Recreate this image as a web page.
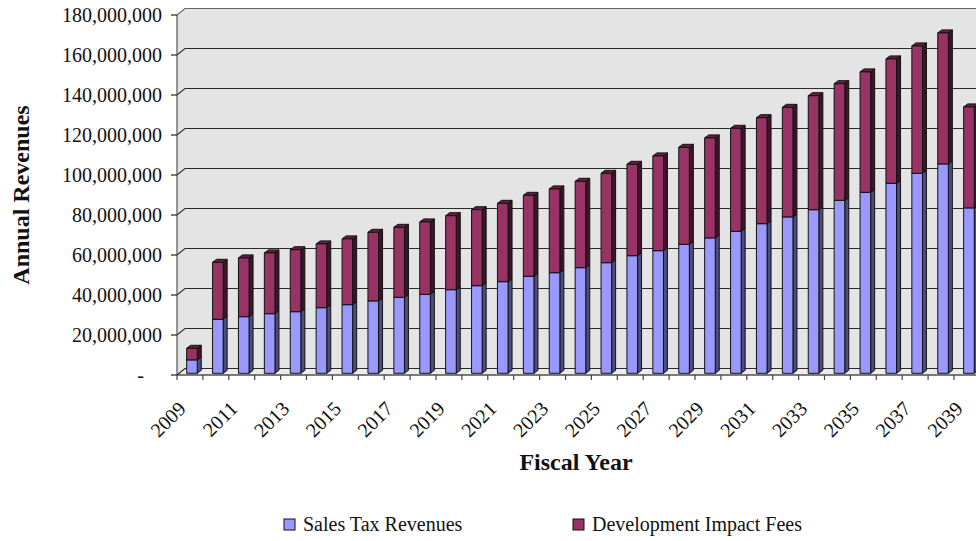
<!DOCTYPE html>
<html>
<head>
<meta charset="utf-8">
<script src="https://cdn.jsdelivr.net/npm/d3@7"></script>
<style>
  body { margin: 0; background: #fff; }
  svg { display: block; }
</style>
</head>
<body>
<div id="chart"></div>
<script>
// Fiscal years, one bar each
var years = d3.range(2009, 2040).map(String)
// Sales tax revenues (blue, bottom of stack), dollars
var salesTax = [
  6.7e6, 27.0e6, 28.3e6, 29.8e6, 30.8e6, 32.8e6, 34.3e6, 36.2e6, 38.0e6, 39.5e6,
  41.8e6, 43.8e6, 45.8e6, 48.5e6, 50.3e6, 52.8e6, 55.3e6, 58.8e6, 61.3e6, 64.5e6,
  67.7e6, 71.0e6, 74.8e6, 78.2e6, 81.8e6, 86.5e6, 90.5e6, 95.0e6, 100.0e6, 104.7e6,
  82.7e6
]
// Development impact fees (purple, stacked on top), dollars
var impactFees = [
  5.8e6, 28.5e6, 29.4e6, 30.4e6, 31.0e6, 31.9e6, 32.9e6, 34.3e6, 35.0e6, 36.2e6,
  37.0e6, 38.0e6, 39.2e6, 40.5e6, 41.9e6, 43.2e6, 44.7e6, 45.7e6, 47.4e6, 48.5e6,
  50.0e6, 51.5e6, 53.0e6, 54.8e6, 57.0e6, 58.3e6, 60.2e6, 62.2e6, 63.7e6, 65.5e6,
  50.5e6
]
var yTicks = d3.range(0, 180e6 + 1, 20e6)
var seriesNames = ['Sales Tax Revenues', 'Development Impact Fees']

var width = 976
var height = 541
var font = "'Liberation Serif', 'Times New Roman', serif"
// 3D options: depth of the walls and the place of the bars in that depth
var wallDx = 8
var wallDy = -6.5
var barShiftX = 2
var barShiftY = -1.7
var barDx = 4
var barDy = -3
var barWidth = 10.6

var colors = [
  { front: '#9999ff', side: '#4d4d80', top: '#7a7acc' },
  { front: '#993366', side: '#3d1429', top: '#66223f' }
]

var svg = d3
  .select('#chart')
  .append('svg')
  .attr('width', width)
  .attr('height', height)
  .attr('font-family', font)

var x = d3
  .scaleBand()
  .domain(years)
  .range([177, 177 + 25.9 * years.length])
var y = d3
  .scaleLinear()
  .domain([0, 180e6])
  .range([375, 15])

var right = 1000

// walls
svg
  .append('polygon')
  .attr('points', [
    [177, y(180e6)], [177 + wallDx, y(180e6) + wallDy],
    [right, y(180e6) + wallDy], [right, y(0) + wallDy],
    [177 + wallDx, y(0) + wallDy], [177, y(0)]
  ].join(' '))
  .attr('fill', '#e4e4e4')

// floor
svg
  .append('polygon')
  .attr('points', [
    [177, y(0)], [177 + wallDx, y(0) + wallDy],
    [right, y(0) + wallDy], [right, y(0)]
  ].join(' '))
  .attr('fill', '#ececec')
  .attr('stroke', '#999')
  .attr('stroke-width', 0.8)

// gridlines
var grid = svg.append('g').attr('class', 'grid')
grid
  .selectAll('path')
  .data(yTicks)
  .enter()
  .append('path')
  .attr('d', d => `M177,${y(d)}L${177 + wallDx},${y(d) + wallDy}L${right},${y(d) + wallDy}`)
  .attr('fill', 'none')
  .attr('stroke', d => (d === 180e6 ? '#666' : '#2a2a2a'))
  .attr('stroke-width', 1.1)

// y axis line and ticks
svg
  .append('line')
  .attr('x1', 177).attr('x2', 177)
  .attr('y1', y(180e6)).attr('y2', y(0))
  .attr('stroke', '#555')
  .attr('stroke-width', 1.2)
svg
  .append('g')
  .selectAll('line')
  .data(yTicks)
  .enter()
  .append('line')
  .attr('x1', 171).attr('x2', 177)
  .attr('y1', d => y(d)).attr('y2', d => y(d))
  .attr('stroke', '#222')
  .attr('stroke-width', 1.2)
svg
  .append('g')
  .selectAll('text')
  .data(yTicks)
  .enter()
  .append('text')
  .attr('x', d => (d === 0 ? 144 : 162))
  .attr('y', d => y(d))
  .attr('dy', '0.33em')
  .attr('text-anchor', 'end')
  .attr('font-size', 20)
  .attr('fill', '#111')
  .text(d => (d === 0 ? '-' : d3.format(',')(d)))

// x axis line and ticks
svg
  .append('line')
  .attr('x1', 177).attr('x2', right)
  .attr('y1', y(0)).attr('y2', y(0))
  .attr('stroke', '#222')
  .attr('stroke-width', 1.2)
svg
  .append('g')
  .selectAll('line')
  .data(years)
  .enter()
  .append('line')
  .attr('x1', d => x(d)).attr('x2', d => x(d))
  .attr('y1', y(0)).attr('y2', y(0) + 5)
  .attr('stroke', '#444')
  .attr('stroke-width', 1.2)
svg
  .append('g')
  .selectAll('text')
  .data(years.filter((d, i) => i % 2 === 0))
  .enter()
  .append('text')
  .attr('transform', d => `translate(${x(d) + x.bandwidth() / 2 - 3},${y(0) + 35}) rotate(-45)`)
  .attr('text-anchor', 'end')
  .attr('font-size', 20)
  .attr('fill', '#111')
  .text(d => d)

// stacked 3D bars, bottom segment first so the top one covers its lid
var stacks = years.map((d, i) => {
  return [
    { year: d, s: 0, y0: 0, y1: salesTax[i] },
    { year: d, s: 1, y0: salesTax[i], y1: salesTax[i] + impactFees[i] }
  ]
})
var bars = svg.append('g').attr('class', 'bars')
stacks.forEach(stack => {
  stack.forEach(seg => {
    var x0 = x(seg.year) + (x.bandwidth() - barWidth) / 2 + barShiftX
    var x1 = x0 + barWidth
    var top = y(seg.y1) + barShiftY
    var bot = y(seg.y0) + barShiftY
    var c = colors[seg.s]
    var g = bars.append('g')
      .attr('stroke', '#111')
      .attr('stroke-width', 1)
      .attr('stroke-linejoin', 'round')
    g.append('polygon')
      .attr('points', [[x1, top], [x1 + barDx, top + barDy], [x1 + barDx, bot + barDy], [x1, bot]].join(' '))
      .attr('fill', c.side)
    g.append('polygon')
      .attr('points', [[x0, top], [x0 + barDx, top + barDy], [x1 + barDx, top + barDy], [x1, top]].join(' '))
      .attr('fill', c.top)
    g.append('rect')
      .attr('x', x0)
      .attr('y', top)
      .attr('width', barWidth)
      .attr('height', bot - top)
      .attr('fill', c.front)
  })
})

// axis titles
svg
  .append('text')
  .attr('transform', `translate(29,${(y(0) + y(180e6)) / 2}) rotate(-90)`)
  .attr('text-anchor', 'middle')
  .attr('font-size', 24)
  .attr('font-weight', 'bold')
  .attr('fill', '#111')
  .text('Annual Revenues')
svg
  .append('text')
  .attr('x', 576)
  .attr('y', 470)
  .attr('text-anchor', 'middle')
  .attr('font-size', 24)
  .attr('font-weight', 'bold')
  .attr('fill', '#111')
  .text('Fiscal Year')

// legend
var legend = svg
  .append('g')
  .selectAll('g')
  .data(seriesNames)
  .enter()
  .append('g')
  .attr('transform', (d, i) => `translate(${i === 0 ? 284 : 573},519)`)
legend
  .append('rect')
  .attr('width', 11)
  .attr('height', 11)
  .attr('fill', (d, i) => colors[i].front)
  .attr('stroke', '#111')
legend
  .append('text')
  .attr('x', 19)
  .attr('y', 12)
  .attr('font-size', 20)
  .attr('fill', '#111')
  .text(d => d)
</script>
</body>
</html>
